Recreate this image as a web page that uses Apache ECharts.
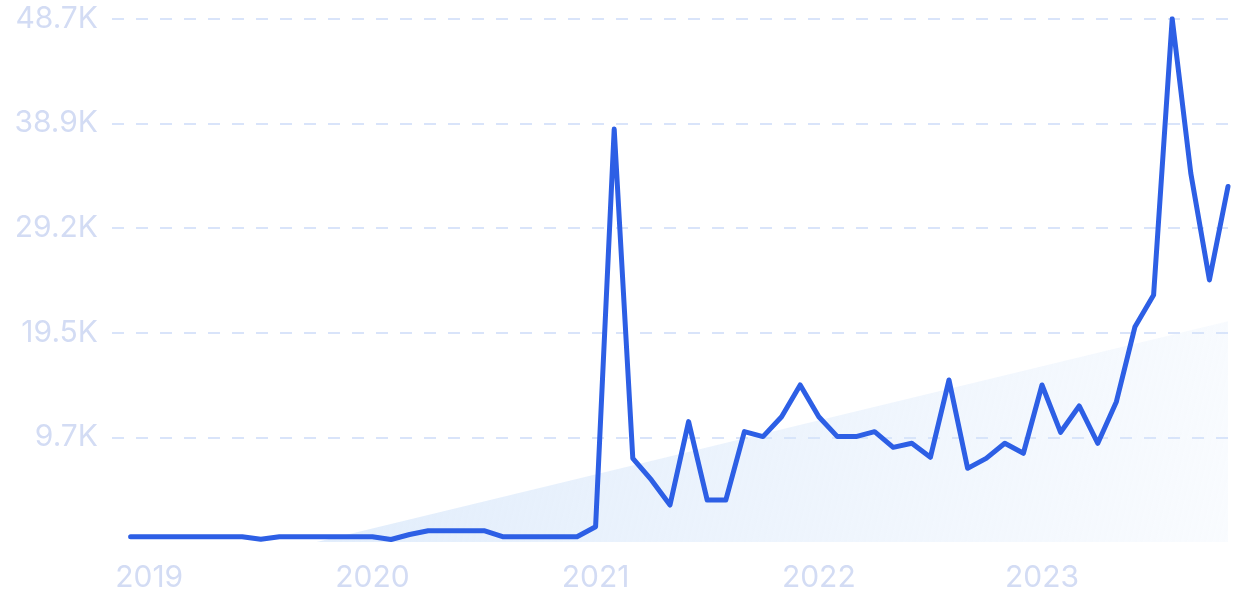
<!DOCTYPE html>
<html>
<head>
<meta charset="utf-8">
<script src="https://cdn.jsdelivr.net/npm/echarts@6/dist/echarts.min.js"></script>
<style>html,body{margin:0;padding:0;background:#fff}#c{width:1234px;height:616px}</style>
</head>
<body>
<div id="c"></div>
<script>
// Months (Dec 2018 .. Nov 2023)
const months = [
 '2018-12','2019-01','2019-02','2019-03','2019-04','2019-05','2019-06','2019-07','2019-08','2019-09','2019-10','2019-11','2019-12',
 '2020-01','2020-02','2020-03','2020-04','2020-05','2020-06','2020-07','2020-08','2020-09','2020-10','2020-11','2020-12',
 '2021-01','2021-02','2021-03','2021-04','2021-05','2021-06','2021-07','2021-08','2021-09','2021-10','2021-11','2021-12',
 '2022-01','2022-02','2022-03','2022-04','2022-05','2022-06','2022-07','2022-08','2022-09','2022-10','2022-11','2022-12',
 '2023-01','2023-02','2023-03','2023-04','2023-05','2023-06','2023-07','2023-08','2023-09','2023-10','2023-11'
];
const values = [
 490,490,490,490,490,490,490,250,490,490,490,490,490,
 490,230,700,1050,1050,1050,1050,490,490,490,490,490,
 1420,38400,7780,5770,3440,11190,3900,3900,10260,9800,11650,14600,
 11650,9800,9800,10260,8800,9180,7870,15070,6850,7780,9180,8250,
 14600,10200,12650,9180,13050,20020,22970,48660,34290,24370,33050
];
// Trend (growth) area endpoints
const trendMonths = ['2019-10','2023-11'];
const trendValues = [0, 20520];
const yearLabels = ['2019','2020','2021','2022','2023'];
const yMax = 48660;
const yStep = 9732;

function monthIndex(s){ const [y,m] = s.split('-').map(Number); return (y-2019)*12 + (m-1); }
const lineData = months.map((m,i)=>[monthIndex(m), values[i]]);
const trendData = trendMonths.map((m,i)=>[monthIndex(m), trendValues[i]]);
const yearTicks = yearLabels.map(y=>monthIndex(y+'-01'));

const chart = echarts.init(document.getElementById('c'), null, {renderer:'canvas'});
chart.setOption({
  animation:false,
  grid:{left:112, right:6, top:18.7, bottom:74, containLabel:false},
  xAxis:{
    type:'value', min:-2, max:58,
    axisLine:{show:false}, axisTick:{show:false}, splitLine:{show:false},
    axisLabel:{
      customValues: yearTicks,
      formatter: v => String(2019 + Math.round(v/12)),
      color:'#d3dcf4', fontFamily:'Inter', fontSize:30, margin:21
    }
  },
  yAxis:{
    type:'value', min:0, max:yMax, interval:yStep,
    axisLine:{show:false}, axisTick:{show:false},
    splitLine:{show:true, showMinLine:false, lineStyle:{color:'#d9e4fa', type:[12,12], width:2}},
    axisLabel:{
      showMinLabel:false,
      formatter: v => v===0 ? '' : (v/1000).toFixed(1)+'K',
      color:'#d3dcf4', fontFamily:'Inter', fontSize:30, margin:14
    }
  },
  series:[
    {
      type:'line', data:trendData, symbol:'none', silent:true,
      lineStyle:{width:0},
      areaStyle:{color:new echarts.graphic.LinearGradient(0,0,1,1,[
        {offset:0,color:'rgba(214,230,250,0.75)'},
        {offset:1,color:'rgba(214,230,250,0.15)'}
      ]), opacity:1},
      z:1
    },
    {
      type:'line', data:lineData, symbol:'none',
      lineStyle:{color:'#2d5fe5', width:5, join:'round', cap:'round'},
      z:3
    }
  ]
});
</script>
</body>
</html>
